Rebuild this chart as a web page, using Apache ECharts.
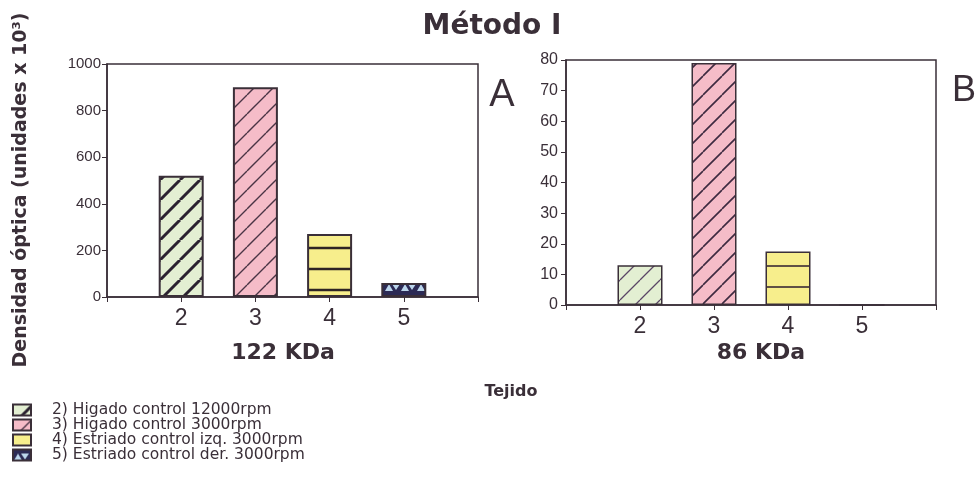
<!DOCTYPE html>
<html><head><meta charset="utf-8">
<script src="https://cdn.jsdelivr.net/npm/echarts@6/dist/echarts.min.js"></script>
<style>html,body{margin:0;padding:0;background:#fff}#c{width:975px;height:477px}</style>
</head><body><div id="c"></div>
<script>
// ---- data ----
const categories = ['2', '3', '4', '5'];
const values122 = [520, 900, 270, 60];
const values86 = [13, 79, 17.5, 0];
const legendNames = [
  '2) Higado control 12000rpm',
  '3) Higado control 3000rpm',
  '4) Estriado control izq. 3000rpm',
  '5) Estriado control der. 3000rpm'
];
const yScaleA = { min: 0, max: 1000, interval: 200 };
const yScaleB = { min: 0, max: 80, interval: 10 };

// ---- styles ----
const INK = '#3a2f38';
function pat(bg, fg, lw, w, h, kind, phase) {
  const c = document.createElement('canvas');
  c.width = w; c.height = h;
  const g = c.getContext('2d');
  g.fillStyle = bg; g.fillRect(0, 0, w, h);
  g.strokeStyle = fg; g.fillStyle = fg; g.lineWidth = lw;
  if (kind === 'diag') {
    g.beginPath();
    for (const o of [-w, 0, w]) { g.moveTo(o, h); g.lineTo(o + w, 0); }
    g.stroke();
  } else if (kind === 'horiz') {
    g.beginPath(); g.moveTo(0, phase); g.lineTo(w, phase); g.stroke();
  } else if (kind === 'tri') {
    g.fillStyle = fg; g.fillRect(0, 0, w, h);
    g.fillStyle = bg;
    g.beginPath(); g.moveTo(1, h - 3); g.lineTo(5, 4); g.lineTo(9, h - 3); g.closePath(); g.fill();
    g.beginPath(); g.moveTo(8, 4); g.lineTo(16, 4); g.lineTo(12, h - 4); g.closePath(); g.fill();
  }
  return { image: c, repeat: 'repeat' };
}
const patsA = [
  pat('#e3efd2', '#2b2230', 3, 20, 20, 'diag'),
  pat('#f5bcc8', '#4a3444', 1.4, 19, 19, 'diag'),
  pat('#f7ee8c', '#2e2424', 2.5, 21, 21, 'horiz', 17),
  pat('#bcd6ec', '#2c2a55', 1, 16, 14, 'tri')
];
const patsB = [
  pat('#e3efd2', '#5a4666', 1.3, 20, 20, 'diag'),
  pat('#f5bcc8', '#3e2a40', 1.6, 19, 19, 'diag'),
  pat('#f7ee8c', '#3a2a34', 1.6, 21, 21, 'horiz', 14),
  pat('#bcd6ec', '#2c2a55', 1, 16, 14, 'tri')
];

function makeSeries(gi, vals, pats, bw) {
  return categories.map((c, i) => {
    const d = new Array(categories.length + 2).fill(null);
    d[i + 1] = vals[i];
    return {
      name: legendNames[i], type: 'bar', xAxisIndex: gi, yAxisIndex: gi,
      barWidth: 45, barGap: '-100%', data: d, silent: true,
      itemStyle: { color: pats[i], borderColor: INK, borderWidth: bw }
    };
  });
}

const axisCats = [''].concat(categories, ['']);
function xAx(gi, margin) {
  return {
    type: 'category', gridIndex: gi, data: axisCats, boundaryGap: false,
    axisLine: { lineStyle: { color: INK, width: 1.5 } },
    axisTick: { lineStyle: { color: INK }, length: 5 },
    axisLabel: { fontFamily: 'Liberation Sans', fontSize: 23, color: INK, margin: margin }
  };
}
function yAx(gi, sc, fs, margin) {
  return {
    type: 'value', gridIndex: gi, min: sc.min, max: sc.max, interval: sc.interval,
    splitLine: { show: false },
    axisLine: { show: true, lineStyle: { color: INK, width: 1.5 } },
    axisTick: { show: true, length: 5, lineStyle: { color: INK } },
    axisLabel: { fontFamily: 'Liberation Sans', fontSize: fs, color: INK, margin: margin, formatter: v => String(v) }
  };
}

const legends = legendNames.map((n, i) => ({
  data: [n], orient: 'vertical', left: 12, top: 402 + i * 15, padding: 0,
  itemWidth: 18, itemHeight: 11, icon: 'rect', selectedMode: false,
  textStyle: { fontFamily: 'DejaVu Sans', fontSize: 15.5, color: INK, padding: [0, 0, 0, 16] }
}));

const chart = echarts.init(document.getElementById('c'), null, { renderer: 'canvas' });
chart.setOption({
  animation: false,
  backgroundColor: '#ffffff',
  grid: [
    { left: 107, top: 64, width: 371, height: 233, show: true, borderColor: INK, borderWidth: 1.5, backgroundColor: 'transparent' },
    { left: 566, top: 60, width: 370, height: 245, show: true, borderColor: INK, borderWidth: 1.5, backgroundColor: 'transparent' }
  ],
  xAxis: [xAx(0, 10), xAx(1, 10)],
  yAxis: [yAx(0, yScaleA, 15, 6), yAx(1, yScaleB, 16, 8)],
  legend: legends,
  series: makeSeries(0, values122, patsA, 2).concat(makeSeries(1, values86, patsB, 1.5)),
  graphic: [
    { type: 'text', x: 492, y: 27, style: { text: 'Método I', font: 'bold 28px "DejaVu Sans"', fill: INK, align: 'center', verticalAlign: 'middle' } },
    { type: 'text', x: 21, y: 190, rotation: Math.PI / 2, style: { text: 'Densidad óptica (unidades x 10³)', font: 'bold 19px "DejaVu Sans"', fill: INK, align: 'center', verticalAlign: 'middle' } },
    { type: 'text', x: 283, y: 353, style: { text: '122 KDa', font: 'bold 22px "DejaVu Sans"', fill: INK, align: 'center', verticalAlign: 'middle' } },
    { type: 'text', x: 761, y: 353, style: { text: '86 KDa', font: 'bold 22px "DejaVu Sans"', fill: INK, align: 'center', verticalAlign: 'middle' } },
    { type: 'text', x: 511, y: 392, style: { text: 'Tejido', font: 'bold 16px "DejaVu Sans"', fill: INK, align: 'center', verticalAlign: 'middle' } },
    { type: 'text', x: 502, y: 96, style: { text: 'A', font: '38px "Liberation Sans"', fill: INK, align: 'center', verticalAlign: 'middle' } },
    { type: 'text', x: 952, y: 91, style: { text: 'B', font: '36px "Liberation Sans"', fill: INK, align: 'left', verticalAlign: 'middle' } }
  ]
});
</script>
</body></html>
